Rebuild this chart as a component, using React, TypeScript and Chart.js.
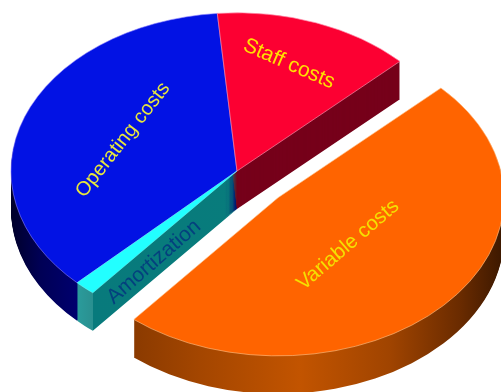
import React, { useEffect, useRef } from "react";
import { Chart, registerables } from "chart.js";

Chart.register(...registerables);

// Cost breakdown, percent of total, clockwise from the top of the pie
const categories = ["Staff costs", "Variable costs", "Amortization", "Operating costs"];
const shares = [14.2, 48.2, 1.5, 36.1];

const topColors = ["#fc0032", "#ff6400", "#22ffff", "#0212e4"];
const edgeColors = ["rgba(255,140,170,0.8)", "rgba(255,190,130,0.75)", "rgba(120,255,255,0.6)", "rgba(140,130,255,0.7)"];
const labelColors = ["#ffe000", "#f5e000", "#04407e", "#e8e83c"];

// Disc projection
const TILT = 0.7;
const THICKNESS = 38;
const PULL_OUT = [0, 56, 0, 0];

// Label anchors relative to the pie centre, angle in degrees
const labelPlacement = [
  { dx: 52, dy: -107, angle: 23.5, size: 21 },
  { dx: 111, dy: 74, angle: -40.6, size: 20.5 },
  { dx: -83, dy: 91, angle: -41, size: 21 },
  { dx: -114, dy: -31, angle: -52, size: 20 },
];

function sideFill(ctx: CanvasRenderingContext2D, index: number, shiftX: number) {
  const ramp = (stops: [number, string][]) => {
    const x0 = stops[0][0];
    const x1 = stops[stops.length - 1][0];
    const g = ctx.createLinearGradient(x0 - shiftX, 0, x1 - shiftX, 0);
    stops.forEach(([x, c]) => g.addColorStop((x - x0) / (x1 - x0), c));
    return g;
  };
  if (index === 0) return "#76001a";
  if (index === 1) {
    return ramp([
      [133, "#8a3a00"],
      [200, "#a44600"],
      [300, "#c25400"],
      [390, "#a04400"],
      [460, "#6a2b00"],
      [503, "#3c1800"],
    ]);
  }
  if (index === 2) {
    return ramp([
      [77, "#2a9c9c"],
      [92.5, "#2a9090"],
      [93.5, "#087a7c"],
      [237, "#087c7c"],
    ]);
  }
  return ramp([
    [11, "#00002a"],
    [40, "#000055"],
    [77, "#00006e"],
  ]);
}

const pie3d = {
  id: "pie3d",
  beforeDatasetsDraw(chart: any) {
    const { ctx } = chart;
    const arcs = chart.getDatasetMeta(0).data;

    const place = (arc: any, i: number, drop: number) => {
      const mid = (arc.startAngle + arc.endAngle) / 2;
      const ex = Math.cos(mid) * PULL_OUT[i];
      const ey = Math.sin(mid) * PULL_OUT[i];
      ctx.translate(arc.x, arc.y + drop);
      ctx.scale(1, TILT);
      ctx.translate(-arc.x + ex, -arc.y + ey);
      return ex;
    };

    const drawSide = (i: number) => {
      const arc = arcs[i];
      const saved = arc.options;
      for (let drop = THICKNESS; drop >= 1; drop--) {
        ctx.save();
        const ex = place(arc, i, drop);
        arc.options = Object.assign(Object.create(saved), {
          backgroundColor: sideFill(ctx, i, ex),
          borderWidth: 0,
        });
        arc.draw(ctx);
        ctx.restore();
      }
      arc.options = saved;
    };

    const drawTop = (i: number) => {
      ctx.save();
      place(arcs[i], i, 0);
      arcs[i].draw(ctx);
      ctx.restore();
    };

    // Fixed slices first, back to front, then the pulled-out slice over them
    [3, 0, 2].forEach(drawSide);
    [3, 0, 2].forEach(drawTop);
    drawSide(1);
    drawTop(1);
    return false;
  },
  afterDraw(chart: any) {
    const { ctx } = chart;
    const arc = chart.getDatasetMeta(0).data[0];
    categories.forEach((name, i) => {
      const p = labelPlacement[i];
      ctx.save();
      ctx.translate(arc.x + p.dx, arc.y + p.dy);
      ctx.rotate((p.angle * Math.PI) / 180);
      ctx.font = `${p.size}px "Liberation Sans", Arial, sans-serif`;
      ctx.fillStyle = labelColors[i];
      ctx.textAlign = "center";
      ctx.textBaseline = "middle";
      ctx.fillText(name, 0, 0);
      ctx.restore();
    });
  },
};

export default function App() {
  const ref = useRef<HTMLCanvasElement>(null);
  useEffect(() => {
    const chart = new Chart(ref.current!, {
      type: "pie",
      data: {
        labels: categories,
        datasets: [
          {
            data: shares,
            backgroundColor: topColors,
            borderColor: edgeColors,
            borderWidth: 1,
          },
        ],
      },
      options: {
        responsive: false,
        animation: false,
        rotation: -5,
        radius: 226,
        layout: { padding: { left: 0, top: 0, right: 27, bottom: 50 } },
        plugins: { legend: { display: false }, tooltip: { enabled: false } },
      },
      plugins: [pie3d],
    } as any);
    return () => chart.destroy();
  }, []);
  return (
    <canvas
      ref={ref}
      width={501}
      height={392}
      style={{ position: "absolute", left: 0, top: 0, display: "block", width: 501, height: 392 }}
    />
  );
}
